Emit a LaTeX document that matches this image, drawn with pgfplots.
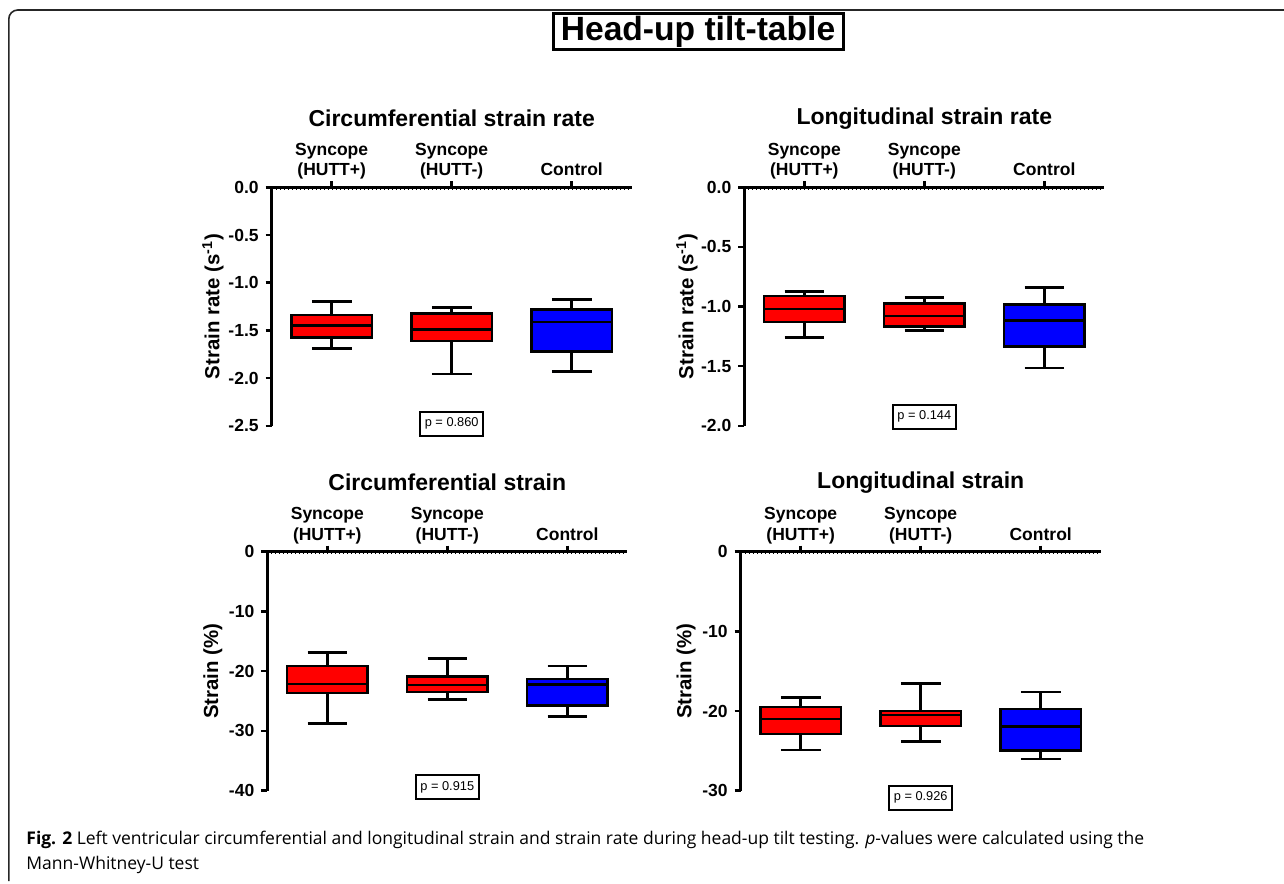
\documentclass[border=0pt]{standalone}
\usepackage{pgfplots}
\pgfplotsset{compat=1.18}
\usepgfplotslibrary{statistics}
\usepackage{fontspec}
\setmainfont{Liberation Sans}
\newfontfamily\capfont{Open Sans}

\pgfplotsset{
  panel/.style={
    scale only axis, width=180pt,
    xmin=0.5, xmax=3.5, ymax=0,
    axis x line=top, axis y line=left,
    axis line style={-, line width=1.25pt, black},
    xtick={1,2,3},
    xticklabels={{Syncope\\(HUTT+)},{Syncope\\(HUTT-)},{Control\vphantom{(}}},
    xticklabel style={align=center, anchor=south, inner sep=0pt, yshift=0.8pt,
      font=\bfseries\fontsize{8.75}{10.2}\selectfont},
    yticklabel style={font=\bfseries\fontsize{8.75}{10}\selectfont},
    ylabel style={font=\bfseries\fontsize{10.2}{12}\selectfont},
    tick align=outside, major tick length=3pt,
    tick style={line width=1.25pt, black},
    minor tick num=0,
    clip=false,
    boxplot/draw direction=y,
    boxplot/box extend=0.67, boxplot/whisker extend=0.33,
  },
  sbox/.style={boxplot prepared={draw direction=y, #1}, draw=black, line width=1.3pt, solid, mark=none},
}
\tikzset{
  ptext/.style={draw, line width=1pt, minimum width=31.5pt, minimum height=12pt,
    inner sep=0pt, font=\fontsize{6.4}{7}\selectfont},
  ptitle/.style={font=\bfseries\fontsize{11.5}{13}\selectfont, inner sep=0pt, yshift=34.5pt},
}

\begin{document}
\begin{tikzpicture}
\path[use as bounding box] (0,0) rectangle (642pt,441.5pt);
\draw[line width=0.8pt, rounded corners=4.5pt, black!85] (4.4pt,1pt) -- (4.4pt,436.5pt) -- (642pt,436.5pt);
\node[draw, line width=1.5pt, minimum width=145pt, minimum height=18pt, inner sep=0pt,
  font=\bfseries\fontsize{16.8}{18}\selectfont] at (349pt,425.5pt) {Head-up tilt-table};

% Panel 1
\begin{axis}[panel, at={(135.85pt,228.6pt)}, anchor=south west, height=119.25pt,
  ymin=-2.5, ytick={-2.5,-2,-1.5,-1,-0.5,0},
  yticklabels={-2.5,-2.0,-1.5,-1.0,-0.5,0.0},
  ylabel={Strain rate (s\textsuperscript{-1})},
  ylabel style={at={(axis description cs:-0.163,0.5)}, anchor=center}]
\addplot[sbox={draw position=1, lower whisker=-1.688, lower quartile=-1.575, median=-1.449, upper quartile=-1.340, upper whisker=-1.196}, fill=red] coordinates {};
\addplot[sbox={draw position=2, lower whisker=-1.958, lower quartile=-1.611, median=-1.488, upper quartile=-1.326, upper whisker=-1.263}, fill=red] coordinates {};
\addplot[sbox={draw position=3, lower whisker=-1.930, lower quartile=-1.723, median=-1.414, upper quartile=-1.284, upper whisker=-1.179}, fill=blue] coordinates {};
\draw[line width=1.6pt, dash pattern=on 0.5pt off 1.5pt] ([yshift=-0.4pt]axis cs:0.5,0) -- ([yshift=-0.4pt]axis cs:3.5,0);
\node[ptext] at (axis cs:2,-2.478) {p = 0.860};
\node[ptitle] at (rel axis cs:0.5,1) {Circumferential strain rate};
\end{axis}

% Panel 2
\begin{axis}[panel, at={(372.15pt,228.6pt)}, anchor=south west, height=119.25pt,
  ymin=-2, ytick={-2,-1.5,-1,-0.5,0},
  yticklabels={-2.0,-1.5,-1.0,-0.5,0.0},
  ylabel={Strain rate (s\textsuperscript{-1})},
  ylabel style={at={(axis description cs:-0.159,0.5)}, anchor=center}]
\addplot[sbox={draw position=1, lower whisker=-1.260, lower quartile=-1.131, median=-1.022, upper quartile=-0.911, upper whisker=-0.874}, fill=red] coordinates {};
\addplot[sbox={draw position=2, lower whisker=-1.201, lower quartile=-1.168, median=-1.078, upper quartile=-0.972, upper whisker=-0.925}, fill=red] coordinates {};
\addplot[sbox={draw position=3, lower whisker=-1.517, lower quartile=-1.335, median=-1.115, upper quartile=-0.983, upper whisker=-0.841}, fill=blue] coordinates {};
\draw[line width=1.6pt, dash pattern=on 0.5pt off 1.5pt] ([yshift=-0.4pt]axis cs:0.5,0) -- ([yshift=-0.4pt]axis cs:3.5,0);
\node[ptext] at (axis cs:2,-1.925) {p = 0.144};
\node[ptitle] at (rel axis cs:0.5,1) {Longitudinal strain rate};
\end{axis}

% Panel 3
\begin{axis}[panel, at={(133.65pt,46.15pt)}, anchor=south west, height=119.5pt,
  ymin=-40, ytick={-40,-30,-20,-10,0},
  yticklabels={-40,-30,-20,-10,0},
  ylabel={Strain (\%)},
  ylabel style={at={(axis description cs:-0.151,0.5)}, anchor=center}]
\addplot[sbox={draw position=1, lower whisker=-28.80, lower quartile=-23.68, median=-22.12, upper quartile=-19.16, upper whisker=-16.88}, fill=red] coordinates {};
\addplot[sbox={draw position=2, lower whisker=-24.74, lower quartile=-23.51, median=-22.28, upper quartile=-20.84, upper whisker=-17.83}, fill=red] coordinates {};
\addplot[sbox={draw position=3, lower whisker=-27.63, lower quartile=-25.79, median=-22.23, upper quartile=-21.28, upper whisker=-19.16}, fill=blue] coordinates {};
\draw[line width=1.6pt, dash pattern=on 0.5pt off 1.5pt] ([yshift=-0.4pt]axis cs:0.5,0) -- ([yshift=-0.4pt]axis cs:3.5,0);
\node[ptext] at (axis cs:2,-39.46) {p = 0.915};
\node[ptitle] at (rel axis cs:0.5,1) {Circumferential strain};
\end{axis}

% Panel 4
\begin{axis}[panel, at={(370.35pt,46.15pt)}, anchor=south west, height=119.5pt,
  ymin=-30, ytick={-30,-20,-10,0},
  yticklabels={-30,-20,-10,0},
  ylabel={Strain (\%)},
  ylabel style={at={(axis description cs:-0.152,0.5)}, anchor=center}]
\addplot[sbox={draw position=1, lower whisker=-24.91, lower quartile=-22.86, median=-21.02, upper quartile=-19.47, upper whisker=-18.30}, fill=red] coordinates {};
\addplot[sbox={draw position=2, lower whisker=-23.82, lower quartile=-21.90, median=-20.52, upper quartile=-20.02, upper whisker=-16.51}, fill=red] coordinates {};
\addplot[sbox={draw position=3, lower whisker=-26.03, lower quartile=-24.95, median=-21.94, upper quartile=-19.72, upper whisker=-17.63}, fill=blue] coordinates {};
\draw[line width=1.6pt, dash pattern=on 0.5pt off 1.5pt] ([yshift=-0.4pt]axis cs:0.5,0) -- ([yshift=-0.4pt]axis cs:3.5,0);
\node[ptext] at (axis cs:2,-30.88) {p = 0.926};
\node[ptitle] at (rel axis cs:0.5,1) {Longitudinal strain};
\end{axis}

\node[anchor=base west, inner sep=0pt, font=\capfont\fontsize{8.75}{10}\selectfont] at (13pt,19.2pt)
  {\textbf{Fig. 2} Left ventricular circumferential and longitudinal strain and strain rate during head-up tilt testing. \textit{p}-values were calculated using the};
\node[anchor=base west, inner sep=0pt, font=\capfont\fontsize{8.75}{10}\selectfont] at (13pt,6.85pt)
  {Mann-Whitney-U test};
\end{tikzpicture}
\end{document}
